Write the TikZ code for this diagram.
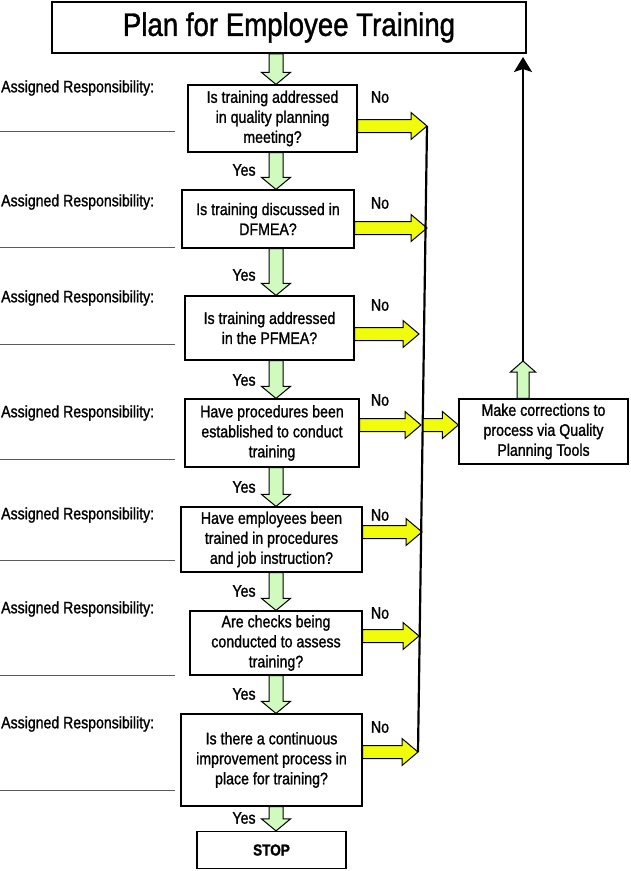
\documentclass[tikz,border=0pt]{standalone}
\usepackage{fontspec}
\setmainfont{Liberation Sans}[FakeStretch=0.85, FakeBold=1.2]
\usetikzlibrary{arrows.meta,calc}
\definecolor{paleleaf}{RGB}{208,250,190}
\definecolor{signyellow}{RGB}{240,252,10}
\definecolor{rulegray}{RGB}{90,90,90}

\tikzset{
  qbox/.style={draw, line width=1.2pt, fill=white, align=center, inner sep=0pt,
    font=\fontsize{16.7}{20}\selectfont},
  resp/.style={anchor=west, inner sep=0pt, font=\fontsize{16.6}{20}\selectfont},
  answer/.style={inner sep=0pt, font=\fontsize{16.7}{20}\selectfont},
  downblock/.style={draw=black, line width=1pt, fill=paleleaf, to path={
    let \p1=(\tikztostart), \p2=(\tikztotarget) in
    (\x1-7pt,\y1) -- (\x1-7pt,\y2+12pt) -- (\x1-14.5pt,\y2+12pt) -- (\x1,\y2)
    -- (\x1+14.5pt,\y2+12pt) -- (\x1+7pt,\y2+12pt) -- (\x1+7pt,\y1) -- cycle}},
  upblock/.style={draw=black, line width=1pt, fill=paleleaf, to path={
    let \p1=(\tikztostart), \p2=(\tikztotarget) in
    (\x1-6pt,\y1) -- (\x1-6pt,\y2-11pt) -- (\x1-12.5pt,\y2-11pt) -- (\x1,\y2)
    -- (\x1+12.5pt,\y2-11pt) -- (\x1+6pt,\y2-11pt) -- (\x1+6pt,\y1) -- cycle}},
  rightblock/.style={draw=black, line width=1pt, fill=signyellow, to path={
    let \p1=(\tikztostart), \p2=(\tikztotarget) in
    (\x1,\y1+6.5pt) -- (\x2-16pt,\y1+6.5pt) -- (\x2-16pt,\y1+13.5pt) -- (\x2,\y1)
    -- (\x2-16pt,\y1-13.5pt) -- (\x2-16pt,\y1-6.5pt) -- (\x1,\y1-6.5pt) -- cycle}}
}

\begin{document}
\begin{tikzpicture}[x=1pt, y=-1pt, >=Stealth]

    \useasboundingbox (0,0) rectangle (631,871);

    % Title
    \node[qbox, line width=1.5pt, minimum width=474pt, minimum height=51pt,
      font=\fontsize{32.5}{36}\selectfont] (title) at (289,27.5) {Plan for Employee Training};

    % Question boxes
    \node[qbox, minimum width=169pt, minimum height=67pt] (q1) at (272.5,118.5)
      {Is training addressed\\in quality planning\\meeting?};
    \node[qbox, minimum width=172pt, minimum height=58pt] (q2) at (268,219)
      {Is training discussed in\\DFMEA?};
    \node[qbox, minimum width=169pt, minimum height=64pt] (q3) at (269.5,328)
      {Is training addressed\\in the PFMEA?};
    \node[qbox, minimum width=174pt, minimum height=68pt] (q4) at (272,433)
      {Have procedures been\\established to conduct\\training};
    \node[qbox, minimum width=181pt, minimum height=65pt] (q5) at (271.5,539.5)
      {Have employees been\\trained in procedures\\and job instruction?};
    \node[qbox, minimum width=172pt, minimum height=64pt] (q6) at (276,643)
      {Are checks being\\conducted to assess\\training?};
    \node[qbox, minimum width=181pt, minimum height=92pt] (q7) at (271.5,760)
      {Is there a continuous\\improvement process in\\place for training?};
    \node[qbox, minimum width=149pt, minimum height=37pt,
      font=\bfseries\fontsize{16}{18}\selectfont] (stop) at (271.5,850) {STOP};

    % Corrections box
    \node[qbox, minimum width=169pt, minimum height=65pt] (fix) at (543.5,431.5)
      {Make corrections to\\process via Quality\\Planning Tools};

    % Assigned responsibility lines
    \node[resp] (r1) at (1,88) {Assigned Responsibility:};
    \node[resp] (r2) at (1,202) {Assigned Responsibility:};
    \node[resp] (r3) at (1,298) {Assigned Responsibility:};
    \node[resp] (r4) at (1,413) {Assigned Responsibility:};
    \node[resp] (r5) at (1,515) {Assigned Responsibility:};
    \node[resp] (r6) at (1,609) {Assigned Responsibility:};
    \node[resp] (r7) at (1,724) {Assigned Responsibility:};
    \draw[rulegray, line width=0.8pt] (0,131) -- (175,131);
    \draw[rulegray, line width=0.8pt] (0,247) -- (175,247);
    \draw[rulegray, line width=0.8pt] (0,344) -- (175,344);
    \draw[rulegray, line width=0.8pt] (0,459) -- (175,459);
    \draw[rulegray, line width=0.8pt] (0,560) -- (175,560);
    \draw[rulegray, line width=0.8pt] (0,675) -- (175,675);
    \draw[rulegray, line width=0.8pt] (0,790) -- (175,790);

    % Yes path (green block arrows)
    \coordinate (spine) at (276,0);
    \draw[downblock] (title.south -| spine) to (q1.north -| spine);
    \draw[downblock] (q1.south -| spine) to (q2.north -| spine);
    \draw[downblock] (q2.south -| spine) to (q3.north -| spine);
    \draw[downblock] (q3.south -| spine) to (q4.north -| spine);
    \draw[downblock] (q4.south -| spine) to (q5.north -| spine);
    \draw[downblock] (q5.south -| spine) to (q6.north -| spine);
    \draw[downblock] (q6.south -| spine) to (q7.north -| spine);
    \draw[downblock] (q7.south -| spine) to (stop.north -| spine);
    \node[answer] (y1) at (244,170) {Yes};
    \node[answer] (y2) at (244,275) {Yes};
    \node[answer] (y3) at (244,380) {Yes};
    \node[answer] (y4) at (244,487) {Yes};
    \node[answer] (y5) at (244,591) {Yes};
    \node[answer] (y6) at (244,694) {Yes};
    \node[answer] (y7) at (244,818) {Yes};

    % No path (yellow block arrows)
    \coordinate (n1) at (427,126);
    \coordinate (n2) at (427,228);
    \coordinate (n3) at (419,334);
    \coordinate (n4) at (421,425);
    \coordinate (n5) at (422,532);
    \coordinate (n6) at (419,636);
    \coordinate (n7) at (418,752);
    \draw[rightblock] (n1 -| q1.east) to (n1);
    \draw[rightblock] (n2 -| q2.east) to (n2);
    \draw[rightblock] (n3 -| q3.east) to (n3);
    \draw[rightblock] (n4 -| q4.east) to (n4);
    \draw[rightblock] (n5 -| q5.east) to (n5);
    \draw[rightblock] (n6 -| q6.east) to (n6);
    \draw[rightblock] (n7 -| q7.east) to (n7);
    \node[answer] (no1) at (380,97) {No};
    \node[answer] (no2) at (380,203) {No};
    \node[answer] (no3) at (380,305) {No};
    \node[answer] (no4) at (380,400) {No};
    \node[answer] (no5) at (380,515) {No};
    \node[answer] (no6) at (380,613) {No};
    \node[answer] (no7) at (380,727) {No};

    % Collector line and way back to the top
    \draw[line width=2.2pt] (n1) -- (n7);
    \coordinate (join) at (423,425);
    \draw[rightblock] (join) to (fix.west |- join);
    \coordinate (up) at (523,361);
    \coordinate (ret) at (523,57);
    \draw[upblock] (fix.north -| up) to (up);
    \draw[->, line width=2pt, >={Stealth[length=15pt, width=18pt, inset=3pt]}] (up) -- (ret);

\end{tikzpicture}
\end{document}
